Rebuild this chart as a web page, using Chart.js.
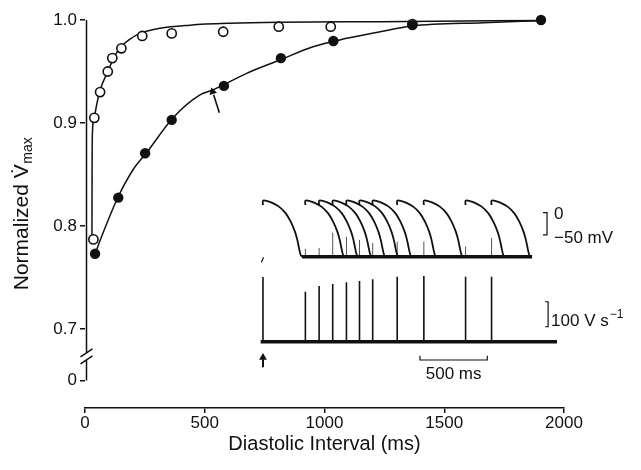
<!DOCTYPE html>
<html>
<head>
<meta charset="utf-8">
<script src="https://cdn.jsdelivr.net/npm/chart.js@4.4.1/dist/chart.umd.min.js"></script>
<style>
  html, body { margin: 0; padding: 0; background: #fff; }
  #wrap { width: 641px; height: 470px; }
</style>
</head>
<body>
<div id="wrap"><canvas id="chart"></canvas></div>
<script>
// Normalized Vmax against diastolic interval, with an inset of superimposed sweeps

// main panel (diastolic interval in ms, normalized Vmax)
const openIntervals = [35, 39, 63, 95, 114, 152, 239, 362, 577, 809, 1026, 1367];
const openVmax = [0.787, 0.905, 0.930, 0.950, 0.963, 0.9725, 0.9845, 0.987, 0.9886, 0.9935, 0.9935, 0.996];
const filledIntervals = [42, 139, 251, 362, 580, 818, 1037, 1367, 1904];
const filledVmax = [0.773, 0.8275, 0.8706, 0.903, 0.936, 0.963, 0.9796, 0.995, 1.0];

// fitted curves
const upperFitX = [29, 29.5, 31, 38, 49, 63, 97, 120, 146, 185, 230, 313, 438, 605, 814, 1232, 1904];
const upperFitY = [0.785, 0.85, 0.89, 0.905, 0.918, 0.932, 0.951, 0.963, 0.973, 0.981, 0.987, 0.992, 0.995, 0.9968, 0.9978, 0.9984, 0.9995];
const lowerFitX = [42, 63, 91, 138, 200, 258, 367, 480, 534, 675, 814, 952, 1093, 1232, 1365, 1662, 1904];
const lowerFitY = [0.7728, 0.786, 0.8025, 0.8282, 0.8544, 0.8714, 0.9049, 0.9272, 0.932, 0.9482, 0.9612, 0.9741, 0.9822, 0.9886, 0.9942, 0.9974, 0.9993];

const arrowX = [561, 537];
const arrowY = [0.910, 0.9275];

const xTicks = [0, 500, 1000, 1500, 2000];
const yTickValues = [0.65, 0.7, 0.8, 0.9, 1.0];
const yTickLabels = ['0', '0.7', '0.8', '0.9', '1.0'];

// inset: sweep time in ms from the first stimulus
const stimTimes = [0, 315, 417, 518, 620, 717, 815, 997, 1195, 1505, 1698];
const spikePeaks = [259, 200, 223, 231, 238, 243, 250, 260, 263, 260, 260];      // V/s
const upstrokeTops = [null, -81, -79, -45, -54, -61, -68, -65, -65, -76, -57];   // mV
const apShapeTime = [0, 0, 32, 69, 119, 168, 206, 238, 255, 268, 280, 290];
const apShapeVolt = [17, 27, 26, 22, 13.5, -1, -20, -43, -61, -80, -95, -99];
const restPotential = -99;
const apBaselineSpan = [290, 1999];
const dvdtBaselineSpan = [-17, 2184];
const firstSweepMark = [[-12, -111], [4, -100]];
const voltBar = [0, -50];       // mV
const rateBar = [60, 160];      // V/s
const timeBar = [1166, 1666];   // ms

const ink = '#111';
const family = '"Liberation Sans", Arial, Helvetica, sans-serif';

const zip = (xs, ys) => xs.map((x, i) => ({ x, y: ys[i] }));

const apTrace = [];
stimTimes.forEach(t0 => {
  apShapeTime.forEach((dt, i) => apTrace.push({ x: t0 + dt, y: apShapeVolt[i] }));
  apTrace.push({ x: t0 + 300, y: null });
});

const upstrokes = [];
stimTimes.forEach((t, i) => {
  if (upstrokeTops[i] === null) return;
  upstrokes.push({ x: t, y: restPotential }, { x: t, y: upstrokeTops[i] }, { x: t, y: null });
});

const spikes = [];
stimTimes.forEach((t, i) => {
  spikes.push({ x: t, y: 0 }, { x: t, y: spikePeaks[i] }, { x: t, y: null });
});

const line = (data, extra) => Object.assign({
  data, showLine: true, pointRadius: 0, borderColor: ink, borderWidth: 1.5,
  clip: false, order: 3
}, extra);

const insetLine = (data, yAxisID, extra) => line(data, Object.assign({ xAxisID: 'xi', yAxisID }, extra));

// y axis line with the break, drawn on the y scale
const yBreak = [0.6768, 0.6700];
const brokenAxis = {
  id: 'brokenAxis',
  afterDatasetsDraw(chart) {
    const { ctx, chartArea, scales: { y } } = chart;
    const x0 = chartArea.left + 1.5;
    const top = y.getPixelForValue(yTickValues[yTickValues.length - 1]);
    const bottom = y.getPixelForValue(yTickValues[0]);
    const b1 = y.getPixelForValue(yBreak[0]);
    const b2 = y.getPixelForValue(yBreak[1]);
    ctx.save();
    ctx.strokeStyle = ink;
    ctx.lineWidth = 1.5;
    ctx.beginPath();
    ctx.moveTo(x0, top); ctx.lineTo(x0, b1);
    ctx.moveTo(x0, b2); ctx.lineTo(x0, bottom);
    [b1, b2].forEach(b => { ctx.moveTo(x0 - 6, b + 4); ctx.lineTo(x0 + 6, b - 4); });
    ctx.stroke();
    ctx.restore();
  }
};

const figureText = {
  id: 'figureText',
  afterDraw(chart) {
    const { ctx, chartArea, scales } = chart;
    const { xi, yv, yd } = scales;
    ctx.save();
    ctx.fillStyle = ink;

    // y title: Normalized V-dot max
    ctx.save();
    ctx.translate(22, (chartArea.top + chartArea.bottom) / 2);
    ctx.rotate(-Math.PI / 2);
    const big = '21px ' + family, small = '14px ' + family;
    ctx.font = big;
    const w1 = ctx.measureText('Normalized ').width;
    const w2 = ctx.measureText('V').width;
    ctx.font = small;
    const w3 = ctx.measureText('max').width;
    let sx = -(w1 + w2 + w3) / 2;
    ctx.textBaseline = 'middle';
    ctx.font = big;
    ctx.fillText('Normalized ', sx, 0);
    ctx.fillText('V\u0307', sx + w1, 0);
    ctx.font = small;
    ctx.fillText('max', sx + w1 + w2 + 0.5, 6);
    ctx.restore();

    // inset scale labels
    ctx.font = '17px ' + family;
    ctx.textBaseline = 'middle';
    ctx.textAlign = 'left';
    const vx = xi.getPixelForValue(2110) + 7;
    ctx.fillText('0', vx, yv.getPixelForValue(voltBar[0]) + 2);
    ctx.fillText('\u221250 mV', vx, yv.getPixelForValue(voltBar[1]) + 3);
    const rx = xi.getPixelForValue(2118) + 3;
    const ry = yd.getPixelForValue(rateBar[0]) - 5;
    ctx.fillText('100 V s', rx, ry);
    const rw = ctx.measureText('100 V s').width;
    ctx.font = '12px ' + family;
    ctx.fillText('\u22121', rx + rw + 1, ry - 7);
    ctx.font = '17px ' + family;
    ctx.textAlign = 'center';
    ctx.fillText('500 ms', xi.getPixelForValue((timeBar[0] + timeBar[1]) / 2), yd.getPixelForValue(-73) + 14);
    ctx.restore();
  }
};

new Chart(document.getElementById('chart'), {
  type: 'scatter',
  data: {
    datasets: [
      line(zip(upperFitX, upperFitY), { cubicInterpolationMode: 'monotone' }),
      line(zip(lowerFitX, lowerFitY), { cubicInterpolationMode: 'monotone' }),
      line(zip(arrowX, arrowY), { borderWidth: 1.6 }),
      {
        data: [{ x: 533, y: 0.9304 }], pointStyle: 'triangle', rotation: -17, pointRadius: 4.5,
        backgroundColor: ink, borderColor: ink, borderWidth: 0, clip: false, order: 2
      },
      {
        data: zip(openIntervals, openVmax), pointRadius: 4.6, backgroundColor: '#fff',
        borderColor: ink, borderWidth: 1.6, clip: false, order: 1
      },
      {
        data: zip(filledIntervals, filledVmax), pointRadius: 5.2, backgroundColor: ink,
        borderColor: ink, borderWidth: 0, clip: false, order: 0
      },
      // inset, membrane potential
      insetLine(apTrace, 'yv', { tension: 0.3, borderWidth: 1.8 }),
      insetLine(zip(apBaselineSpan, [restPotential, restPotential]), 'yv', { borderWidth: 3.5 }),
      insetLine(upstrokes, 'yv', { borderWidth: 1, borderColor: '#555' }),
      insetLine(firstSweepMark.map(p => ({ x: p[0], y: p[1] })), 'yv', { borderWidth: 1.2 }),
      insetLine([{ x: 2080, y: voltBar[0] }, { x: 2110, y: voltBar[0] }, { x: 2110, y: voltBar[1] }, { x: 2080, y: voltBar[1] }], 'yv', { borderWidth: 1.2 }),
      // inset, dV/dt
      insetLine(spikes, 'yd', { borderWidth: 1.6 }),
      insetLine(zip(dvdtBaselineSpan, [0, 0]), 'yd', { borderWidth: 3.5 }),
      insetLine([{ x: 2095, y: rateBar[1] }, { x: 2118, y: rateBar[1] }, { x: 2118, y: rateBar[0] }, { x: 2095, y: rateBar[0] }], 'yd', { borderWidth: 1.2 }),
      insetLine([{ x: timeBar[0], y: -56 }, { x: timeBar[0], y: -73 }, { x: timeBar[1], y: -73 }, { x: timeBar[1], y: -56 }], 'yd', { borderWidth: 1.2 }),
      insetLine([{ x: 0, y: -102 }, { x: 0, y: -70 }], 'yd', { borderWidth: 2 }),
      {
        data: [{ x: 0, y: -63 }], xAxisID: 'xi', yAxisID: 'yd', pointStyle: 'triangle', pointRadius: 4.5,
        backgroundColor: ink, borderColor: ink, borderWidth: 0, clip: false, order: 2
      }
    ]
  },
  options: {
    responsive: true,
    maintainAspectRatio: false,
    animation: false,
    events: [],
    layout: { padding: { top: 20, right: 77, left: 0, bottom: 0 }, autoPadding: false },
    plugins: { legend: { display: false }, tooltip: { enabled: false } },
    scales: {
      x: {
        type: 'linear', min: 0, max: 2000,
        afterBuildTicks: s => { s.ticks = xTicks.map(v => ({ value: v })); },
        afterFit: s => { s.height = 62; },
        border: { display: true, color: ink, width: 1.5 },
        grid: { drawOnChartArea: false, drawTicks: true, tickLength: 5, color: ink, lineWidth: 1.5 },
        ticks: { color: ink, font: { family, size: 17 }, padding: 0, maxRotation: 0, callback: v => String(v) },
        title: {
          display: true, text: 'Diastolic Interval (ms)', color: ink,
          font: { family, size: 20 }, padding: { top: 0, bottom: 14 }
        }
      },
      y: {
        type: 'linear', min: 0.6233, max: 1.0,
        afterBuildTicks: s => { s.ticks = yTickValues.map(v => ({ value: v })); },
        afterFit: s => { s.width = 85; },
        border: { display: false },
        grid: { drawOnChartArea: false, drawTicks: true, tickLength: 5, color: ink, lineWidth: 1.5 },
        ticks: {
          color: ink, font: { family, size: 17 }, padding: 3,
          callback: (v, i) => yTickLabels[i]
        }
      },
      xi: { type: 'linear', display: false, min: -1322, max: 2236 },
      yv: { type: 'linear', display: false, min: -438, max: 432 },
      yd: { type: 'linear', display: false, min: -265, max: 1287 }
    }
  },
  plugins: [brokenAxis, figureText]
});
</script>
</body>
</html>
